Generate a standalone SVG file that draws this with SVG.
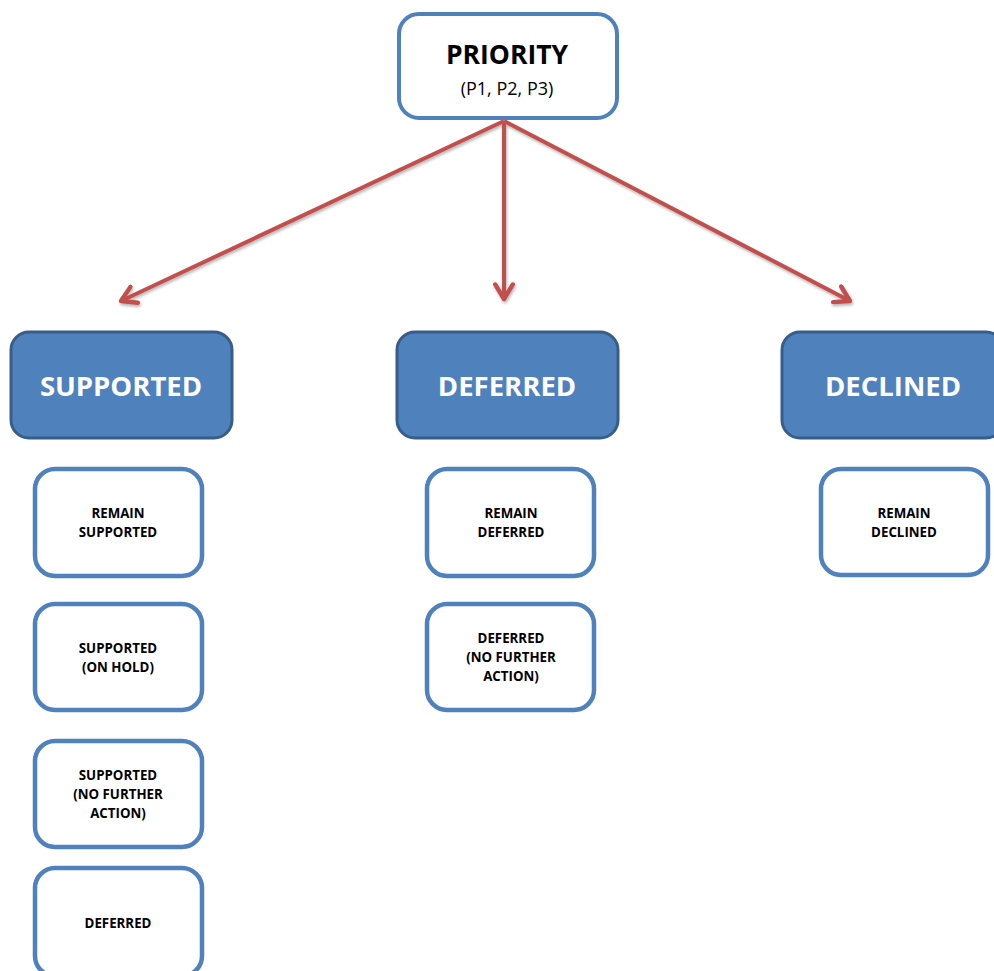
<svg xmlns="http://www.w3.org/2000/svg" width="994" height="971" viewBox="0 0 994 971">
<defs>
<style>
.top{fill:#fff;stroke:#4f81bd;stroke-width:4}
.dark{fill:#4f81bd;stroke:#385d8a;stroke-width:3}
.sub{fill:#fff;stroke:#4f81bd;stroke-width:4.5}
.t{font-family:"Open Sans","Liberation Sans",sans-serif;font-weight:bold;text-anchor:middle}
.big{font-size:27.5px;fill:#fff}
.small{font-size:13.3px;fill:#000}
.arrow{stroke:#c0504d;stroke-width:4;fill:none;marker-end:url(#ah)}
</style>
<marker id="ah" viewBox="0 0 10 10" refX="8.6" refY="5" markerWidth="5.5" markerHeight="5.5" markerUnits="strokeWidth" orient="auto">
<path d="M2,1 L8.6,5 L2,9" fill="none" stroke="#c0504d" stroke-width="2" stroke-linecap="round" stroke-linejoin="round"/>
</marker>
<filter id="sh" x="-10%" y="-10%" width="130%" height="130%">
<feGaussianBlur in="SourceAlpha" stdDeviation="1.5"/>
<feOffset dx="1" dy="2"/>
<feComponentTransfer><feFuncA type="linear" slope="0.3"/></feComponentTransfer>
<feMerge><feMergeNode/><feMergeNode in="SourceGraphic"/></feMerge>
</filter>
</defs>
<rect width="994" height="971" fill="#fff"/>
<g id="connectors" filter="url(#sh)">
<line class="arrow" x1="504" y1="121" x2="121" y2="301"/>
<line class="arrow" x1="504" y1="121" x2="504" y2="299"/>
<line class="arrow" x1="504" y1="121" x2="850" y2="301"/>
</g>
<g id="priority">
<rect class="top" x="399" y="14" width="218" height="104" rx="20"/>
<text class="t" x="507" y="64" font-size="26.5" fill="#000">PRIORITY</text>
<text class="t" x="507" y="95" font-size="18" font-weight="normal" fill="#000" style="font-weight:normal;font-size:18px">(P1, P2, P3)</text>
</g>
<g id="supported">
<rect class="dark" x="11" y="332" width="221" height="106" rx="18"/>
<text class="t big" x="121" y="396">SUPPORTED</text>
</g>
<g id="deferred">
<rect class="dark" x="397" y="332" width="221" height="106" rx="18"/>
<text class="t big" x="507" y="396">DEFERRED</text>
</g>
<g id="declined">
<rect class="dark" x="782" y="332" width="222" height="106" rx="18"/>
<text class="t big" x="893" y="396">DECLINED</text>
</g>
<g id="remain-supported">
<rect class="sub" x="35" y="469" width="167" height="107" rx="20"/>
<text class="t small" x="118" y="518">REMAIN</text>
<text class="t small" x="118" y="537">SUPPORTED</text>
</g>
<g id="supported-on-hold">
<rect class="sub" x="35" y="604" width="167" height="106" rx="20"/>
<text class="t small" x="118" y="653">SUPPORTED</text>
<text class="t small" x="118" y="672">(ON HOLD)</text>
</g>
<g id="supported-nfa">
<rect class="sub" x="35" y="741" width="167" height="106" rx="20"/>
<text class="t small" x="118" y="780">SUPPORTED</text>
<text class="t small" x="118" y="799">(NO FURTHER</text>
<text class="t small" x="118" y="818">ACTION)</text>
</g>
<g id="supported-deferred">
<rect class="sub" x="35" y="868" width="167" height="108" rx="20"/>
<text class="t small" x="118" y="928">DEFERRED</text>
</g>
<g id="remain-deferred">
<rect class="sub" x="427" y="469" width="167" height="107" rx="20"/>
<text class="t small" x="511" y="518">REMAIN</text>
<text class="t small" x="511" y="537">DEFERRED</text>
</g>
<g id="deferred-nfa">
<rect class="sub" x="427" y="604" width="167" height="106" rx="20"/>
<text class="t small" x="511" y="643">DEFERRED</text>
<text class="t small" x="511" y="662">(NO FURTHER</text>
<text class="t small" x="511" y="681">ACTION)</text>
</g>
<g id="remain-declined">
<rect class="sub" x="821" y="469" width="167" height="106" rx="20"/>
<text class="t small" x="904" y="518">REMAIN</text>
<text class="t small" x="904" y="537">DECLINED</text>
</g>
</svg>
